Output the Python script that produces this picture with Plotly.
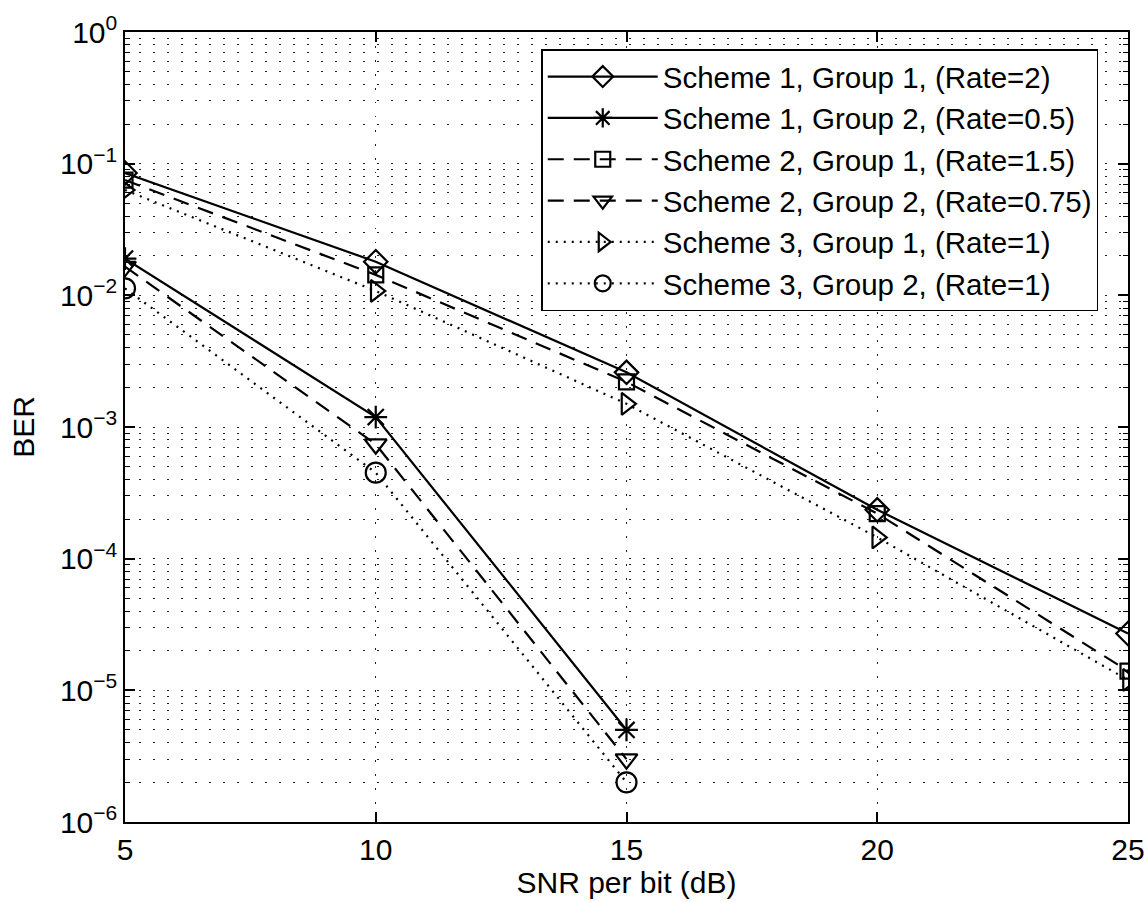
import plotly.graph_objects as go

# ---- data ----
snr_g1 = [5, 10, 15, 20, 25]
snr_g2 = [5, 10, 15]

s1_g1 = [0.085, 0.018, 0.0026, 2.35e-4, 2.7e-5]
s1_g2 = [0.019, 0.00119, 5.0e-6]
s2_g1 = [0.075, 0.0143, 0.0022, 2.2e-4, 1.4e-5]
s2_g2 = [0.0165, 0.00074, 3.0e-6]
s3_g1 = [0.063, 0.0108, 0.0015, 1.45e-4, 1.2e-5]
s3_g2 = [0.0113, 0.00045, 2.0e-6]

names = [
    "Scheme 1, Group 1, (Rate=2)",
    "Scheme 1, Group 2, (Rate=0.5)",
    "Scheme 2, Group 1, (Rate=1.5)",
    "Scheme 2, Group 2, (Rate=0.75)",
    "Scheme 3, Group 1, (Rate=1)",
    "Scheme 3, Group 2, (Rate=1)",
]

x_ticks = [5, 10, 15, 20, 25]
y_exps = [0, -1, -2, -3, -4, -5, -6]

FONT = "Liberation Sans, Arial, Helvetica, sans-serif"
FS = 30
LFS = 29.5

series = [
    (snr_g1, s1_g1, "solid", "diamond-open", 18),
    (snr_g2, s1_g2, "solid", "asterisk-open", 19),
    (snr_g1, s2_g1, "16px,10px", "square-open", 15),
    (snr_g2, s2_g2, "16px,10px", "triangle-down-open", 19),
    (snr_g1, s3_g1, "2px,6px", "triangle-right-open", 19),
    (snr_g2, s3_g2, "2px,6px", "circle-open", 20),
]

fig = go.Figure()
for (xs, ys, dash, sym, sz), nm in zip(series, names):
    fig.add_trace(go.Scatter(
        x=xs, y=ys, name=nm, mode="lines+markers",
        line=dict(color="black", width=2.2, dash=dash),
        marker=dict(symbol=sym, size=sz, color="black",
                    line=dict(color="black", width=2.2)),
    ))

minor_vals = [k * 10.0 ** e for e in range(-6, 0) for k in range(2, 10)]
GRID = dict(gridcolor="#222", gridwidth=1, griddash="1.5px,12.5px")

fig.update_layout(
    width=1148, height=902,
    paper_bgcolor="white", plot_bgcolor="white",
    margin=dict(l=125, r=20, t=32, b=80),
    font=dict(family=FONT, size=FS, color="black"),
    showlegend=True,
    legend=dict(
        x=0.415, y=0.978, xanchor="left", yanchor="top",
        bgcolor="white", bordercolor="black", borderwidth=1.5,
        font=dict(family=FONT, size=LFS, color="black"),
        itemwidth=110, tracegroupgap=0,
    ),
    xaxis=dict(
        range=[5, 25], tickmode="array", tickvals=x_ticks,
        ticktext=[str(v) for v in x_ticks],
        ticks="inside", ticklen=10, tickwidth=1.5, tickcolor="black",
        showline=True, linecolor="black", linewidth=1.5, mirror="ticks",
        showgrid=True, zeroline=False, **GRID,
        title=dict(text="SNR per bit (dB)", standoff=2,
                   font=dict(family=FONT, size=FS)),
        tickfont=dict(family=FONT, size=FS),
        automargin=False,
    ),
    yaxis=dict(
        type="log", range=[-6, 0], tickmode="array",
        tickvals=[10.0 ** e for e in y_exps],
        ticktext=["10<sup>%s</sup>" % (str(e) if e == 0 else "\u2212" + str(-e)) for e in y_exps],
        ticks="inside", ticklen=10, tickwidth=1.5, tickcolor="black",
        showline=True, linecolor="black", linewidth=1.5, mirror="ticks",
        showgrid=True, zeroline=False, **GRID,
        minor=dict(tickmode="array", tickvals=minor_vals, ticks="inside",
                   ticklen=5, tickwidth=1, tickcolor="black",
                   showgrid=True, **GRID),
        title=dict(text="BER", standoff=16, font=dict(family=FONT, size=FS)),
        tickfont=dict(family=FONT, size=FS),
        automargin=False,
    ),
)

fig.write_html(
    "out.html",
    config={"displayModeBar": False},
    post_script="document.body.style.margin='0';document.body.style.overflow='hidden';",
)
